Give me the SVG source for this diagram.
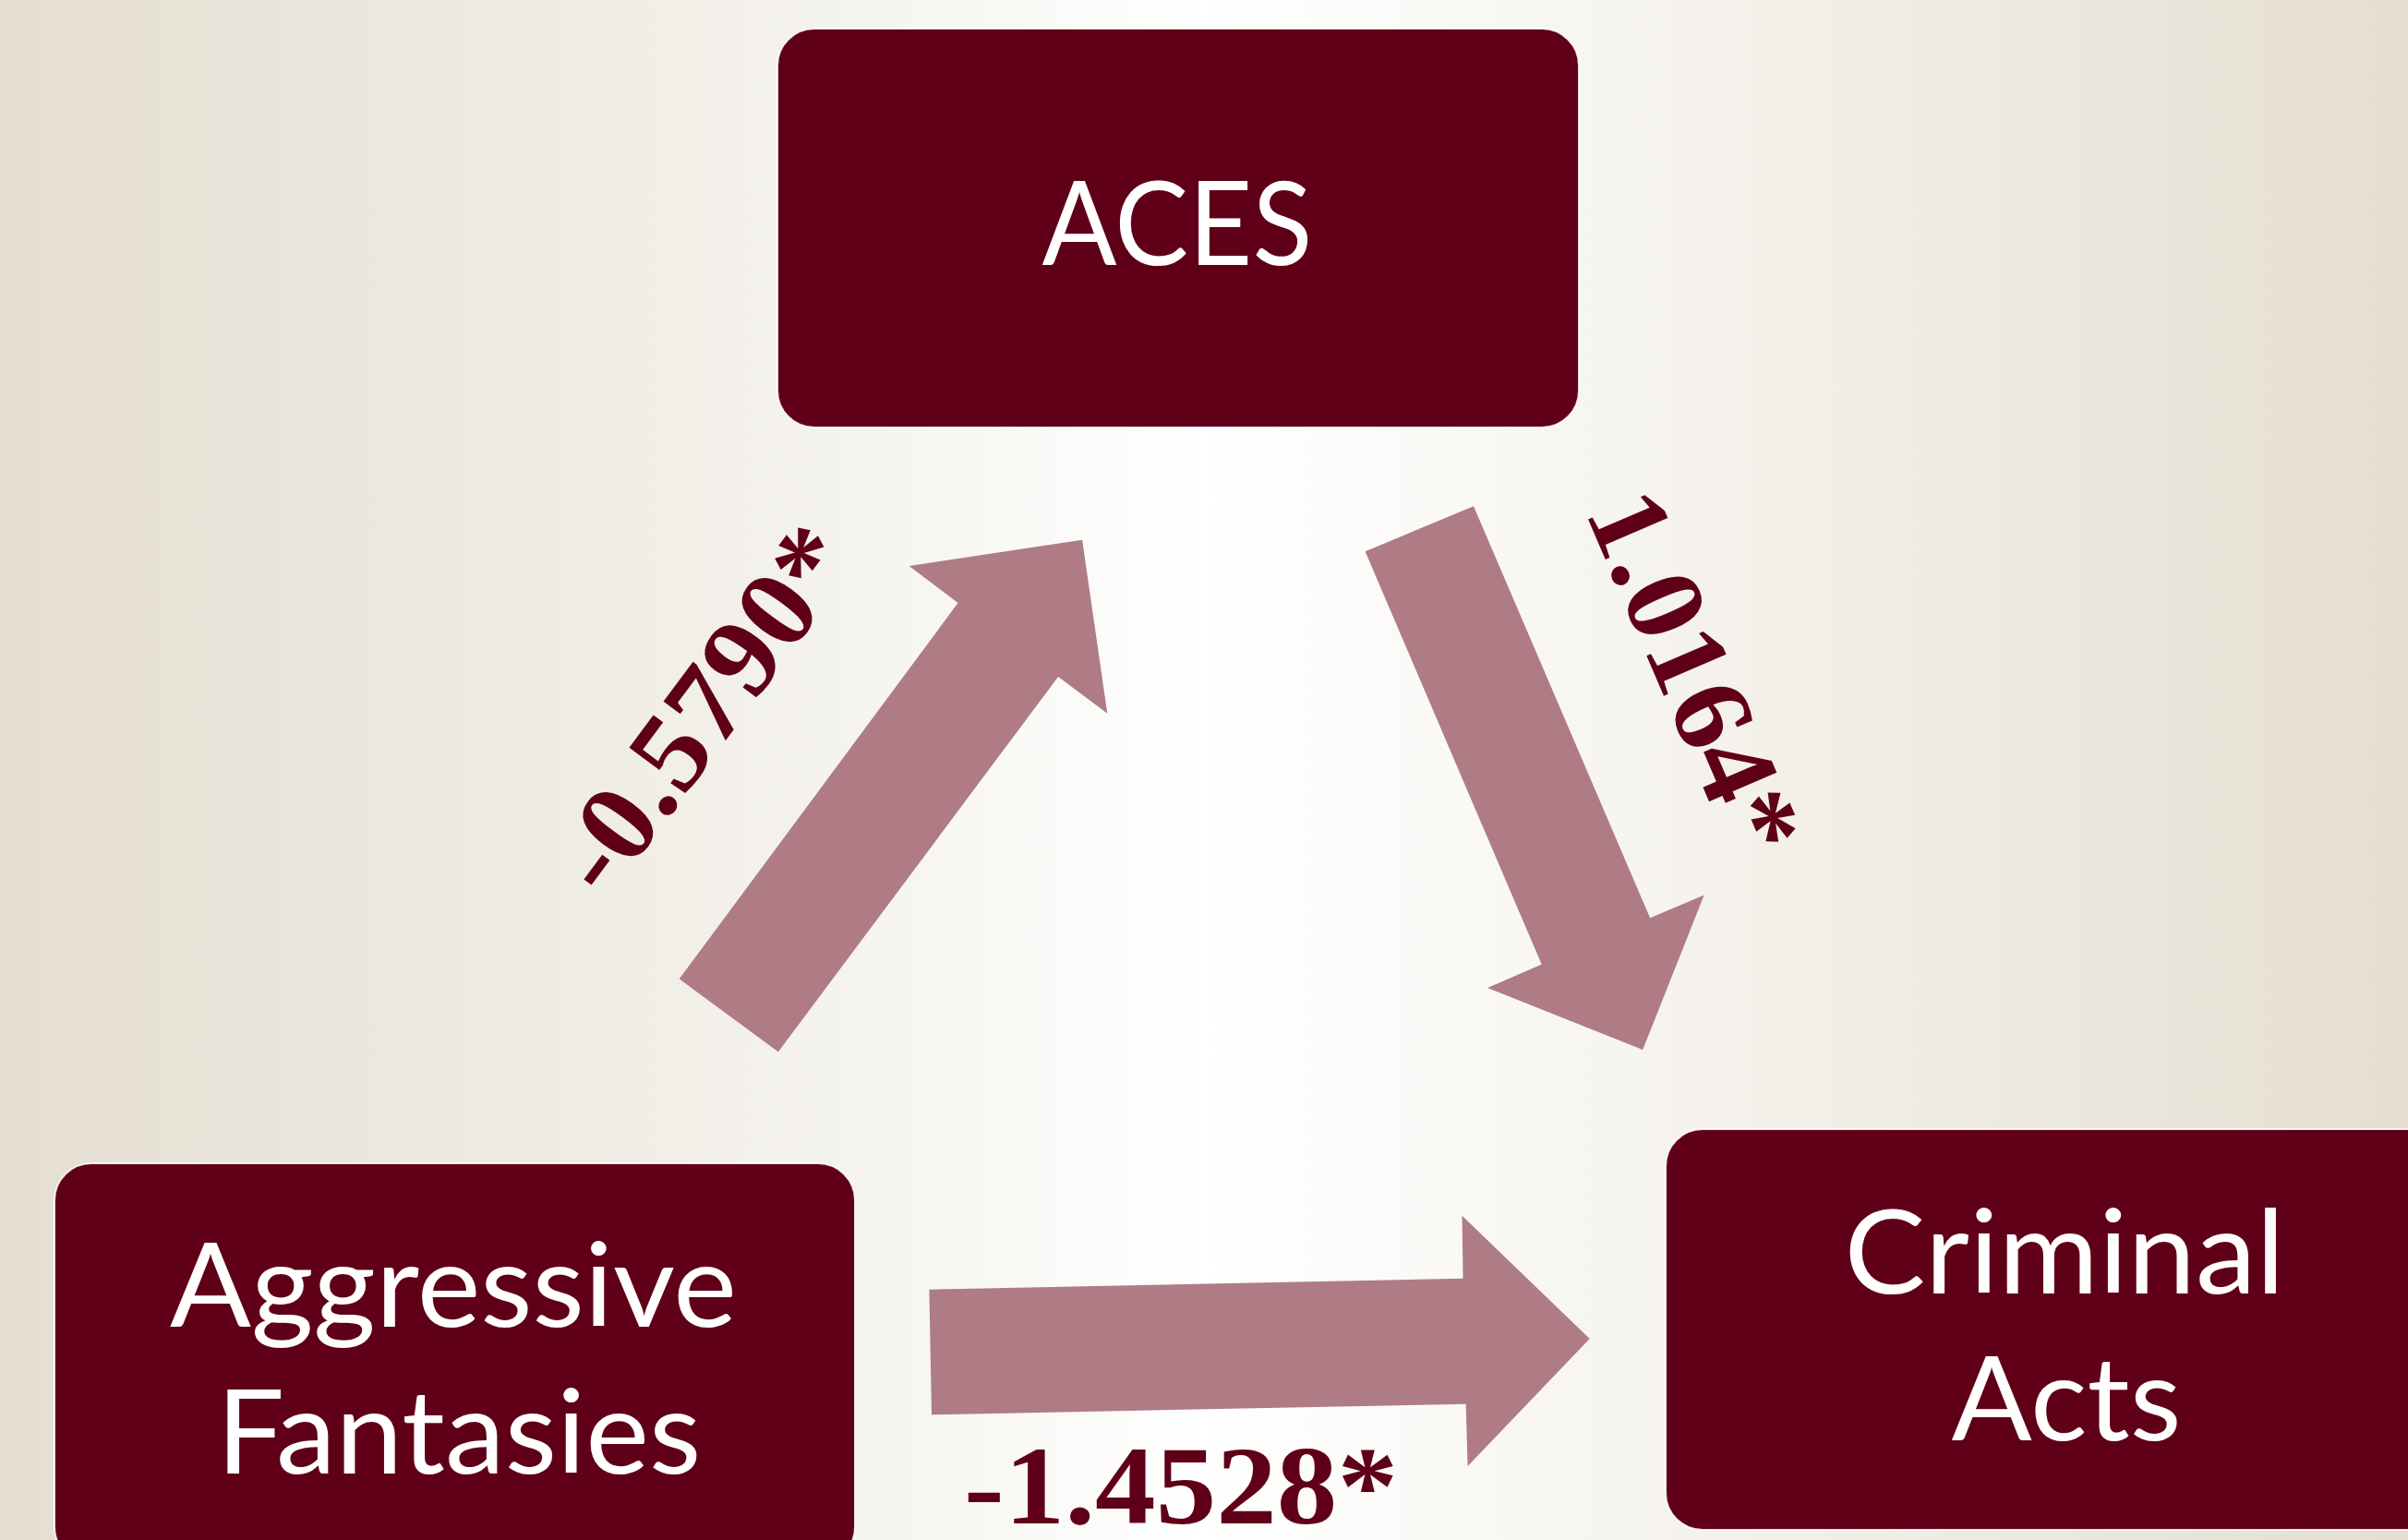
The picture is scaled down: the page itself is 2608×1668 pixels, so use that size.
<svg xmlns="http://www.w3.org/2000/svg" width="2608" height="1668" viewBox="0 0 2608 1668">
  <defs>
    <linearGradient id="bg" x1="0" y1="0" x2="1" y2="0">
      <stop offset="0" stop-color="#E6DED2"/>
      <stop offset="0.12" stop-color="#E9E5DA"/>
      <stop offset="0.35" stop-color="#F5F3EE"/>
      <stop offset="0.5" stop-color="#FFFFFF"/>
      <stop offset="0.65" stop-color="#F8F6F2"/>
      <stop offset="0.88" stop-color="#EAE6DB"/>
      <stop offset="1" stop-color="#E6DED2"/>
    </linearGradient>
  </defs>
  <style>
    .box { fill: #600018; stroke: #ffffff; stroke-width: 2; stroke-opacity: 0.85; }
    .lbl { font-family: "Lato", "Open Sans", sans-serif; font-size: 126px; fill: #ffffff; text-anchor: middle; }
    .arrow { fill: #AF7C86; }
    .coef { font-family: "Liberation Serif", "DejaVu Serif", serif; font-weight: bold; font-size: 121px; fill: #600018; }
  </style>
  <rect x="0" y="0" width="2608" height="1668" fill="url(#bg)"/>

  <g id="connectors">
    <g id="arrow-af-aces">
      <polygon class="arrow" points="735.7,1060.3 1037.5,653.1 984.6,612.9 1172.1,584.8 1199.3,772.8 1146.1,733.0 842.9,1139.3"/>
      <text class="coef" transform="translate(656.6,976.2) rotate(-53.4)" x="0" y="0" textLength="460" lengthAdjust="spacingAndGlyphs">-0.5790*</text>
    </g>
    <g id="arrow-aces-ca">
      <polygon class="arrow" points="1478.6,597.3 1596.0,548.2 1787.1,994.2 1845.6,969.6 1779.2,1137.1 1611.1,1070.1 1669.7,1044.6"/>
      <text class="coef" transform="translate(1716,553) rotate(66.8)" x="0" y="0" textLength="418" lengthAdjust="spacingAndGlyphs">1.0164*</text>
    </g>
    <g id="arrow-af-ca">
      <polygon class="arrow" points="1006.4,1396.7 1584.5,1384.7 1583.5,1316.7 1721.7,1450 1589.6,1588 1587.6,1520.7 1009,1532.3"/>
      <text class="coef" x="1044" y="1650" textLength="470" lengthAdjust="spacingAndGlyphs">-1.4528*</text>
    </g>
  </g>

  <g id="node-aces">
    <rect class="box" x="842" y="31" width="868" height="432" rx="40" ry="40"/>
    <text class="lbl" x="1275" y="287" textLength="293" lengthAdjust="spacingAndGlyphs">ACES</text>
  </g>
  <g id="node-aggressive-fantasies">
    <rect class="box" x="59" y="1260" width="867" height="434" rx="40" ry="40"/>
    <text class="lbl" x="491" y="1437" textLength="614" lengthAdjust="spacingAndGlyphs">Aggressive</text>
    <text class="lbl" x="497" y="1596" textLength="525" lengthAdjust="spacingAndGlyphs">Fantasies</text>
  </g>
  <g id="node-criminal-acts">
    <rect class="box" x="1804" y="1223" width="867" height="434" rx="40" ry="40"/>
    <text class="lbl" x="2236" y="1401" textLength="477" lengthAdjust="spacingAndGlyphs">Criminal</text>
    <text class="lbl" x="2238" y="1560" textLength="249" lengthAdjust="spacingAndGlyphs">Acts</text>
  </g>
</svg>
